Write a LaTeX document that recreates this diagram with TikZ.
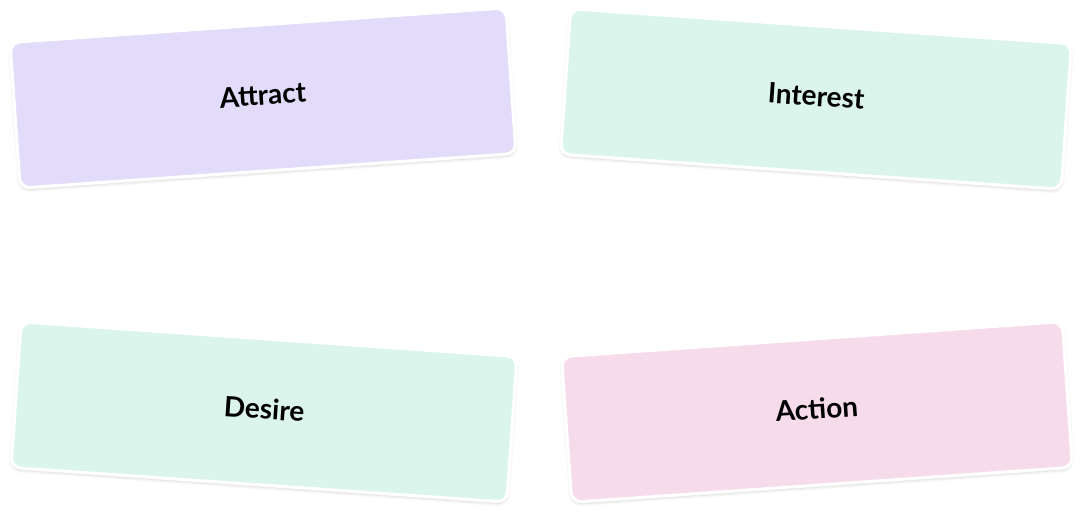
\documentclass[tikz,border=0pt]{standalone}
\usepackage{fontspec}
\setmainfont{Lato}
\usepackage{tikz}
\usetikzlibrary{positioning, shadows.blur}

\definecolor{lavender}{HTML}{E2DCFA}
\definecolor{mint}{HTML}{DCF5EC}
\definecolor{blush}{HTML}{F6DCEB}

\begin{document}
\begin{tikzpicture}[x=1pt, y=-1pt,
        card/.style={rectangle, rounded corners=10pt, draw=white, line width=3pt,
            minimum width=497pt, minimum height=146pt, inner sep=0pt,
            text height=20pt, text depth=6pt,
            font=\fontsize{28}{33}\selectfont\bfseries,
            blur shadow={shadow blur radius=3pt, shadow xshift=0pt, shadow yshift=-2pt,
                shadow opacity=18}}]
        \useasboundingbox (0, 0) rectangle (1080, 514);

        \node (att) [card, fill=lavender, rotate=4] at (263, 98) {Attract};
        \node (int) [card, fill=mint, rotate=-4, minimum width=502pt] at (816, 99) {Interest};
        \node (des) [card, fill=mint, rotate=-4] at (264, 412) {Desire};
        \node (act) [card, fill=blush, rotate=4, minimum width=502pt] at (817, 412) {Action};
    \end{tikzpicture}
\end{document}
